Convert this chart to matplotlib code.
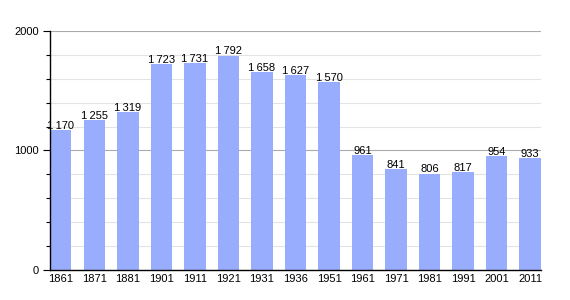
import matplotlib
matplotlib.use("Agg")
import matplotlib.pyplot as plt
from matplotlib.ticker import MultipleLocator

# Population by census year
years = ['1861', '1871', '1881', '1901', '1911', '1921', '1931', '1936',
         '1951', '1961', '1971', '1981', '1991', '2001', '2011']
population = [1170, 1255, 1319, 1723, 1731, 1792, 1658, 1627,
              1570, 961, 841, 806, 817, 954, 933]
y_ticks = [0, 1000, 2000]

plt.rcParams['font.family'] = ['Liberation Sans', 'DejaVu Sans']

fig = plt.figure(figsize=(5.7, 3.0), dpi=100)
ax = fig.add_axes([0.0877, 0.1, 0.8613, 0.797])

x = list(range(len(years)))
ax.bar(x, population, width=0.64, color='#99adff', zorder=2)

for xi, v in zip(x, population):
    s = f"{v:,}".replace(',', '\u2009')
    ax.text(xi, v - 6, s, ha='center', va='bottom', fontsize=8, zorder=3)

ax.set_xlim(-0.32, len(years) - 1 + 0.32)
ax.set_ylim(0, 2000)
ax.set_xticks(x)
ax.set_xticklabels(years, fontsize=8)
ax.set_yticks(y_ticks)
ax.set_yticklabels([str(t) for t in y_ticks], fontsize=8)
ax.yaxis.set_minor_locator(MultipleLocator(200))

ax.grid(axis='y', which='major', color='#aaaaaa', linewidth=0.8, zorder=1)
ax.grid(axis='y', which='minor', color='#e3e3e3', linewidth=0.8, zorder=1)
ax.set_axisbelow(True)

ax.tick_params(axis='x', length=0, pad=3)
ax.tick_params(axis='y', which='major', length=5, width=0.8, pad=3)
ax.tick_params(axis='y', which='minor', length=3, width=0.8)

for side in ['top', 'right']:
    ax.spines[side].set_visible(False)
ax.spines['left'].set_linewidth(1.0)
ax.spines['bottom'].set_linewidth(1.0)

fig.savefig('out.png', dpi=100, facecolor='white')
